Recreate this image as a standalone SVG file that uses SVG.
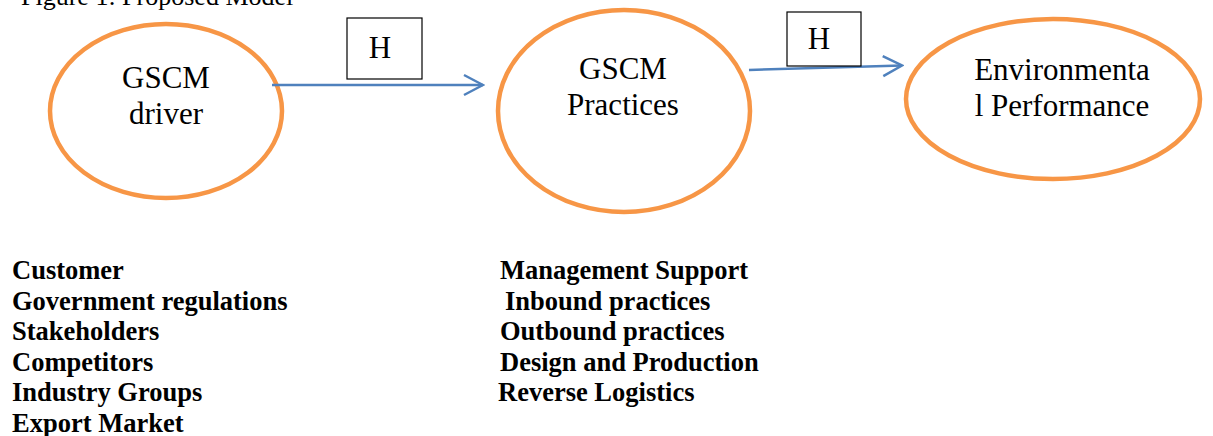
<svg xmlns="http://www.w3.org/2000/svg" width="1213" height="436" viewBox="0 0 1213 436">
<style>
.node{fill:#ffffff;stroke:#F79646;stroke-width:4.5}
.lbl{font-family:"Liberation Serif","Times New Roman",serif;font-size:31px;fill:#000;text-anchor:middle}
.box{fill:#ffffff;stroke:#000;stroke-width:1.2}
.conn{stroke:#4F81BD;stroke-width:2.5;fill:none}
.list{font-family:"Liberation Serif","Times New Roman",serif;font-size:26.5px;font-weight:bold;fill:#000}
.title{font-family:"Liberation Serif","Times New Roman",serif;font-size:26px;fill:#000}
</style>
<defs>
<marker id="arr" markerWidth="22" markerHeight="24" refX="19" refY="10" orient="auto" markerUnits="userSpaceOnUse" viewBox="-1 -1 22 22">
<path d="M0,0 L19,10 L0,20" fill="none" stroke="#4F81BD" stroke-width="2.5"/>
</marker>
</defs>
<rect width="1213" height="436" fill="#ffffff"/>
<text class="title" x="21" y="5">Figure 1: Proposed Model</text>

<g id="driver">
<ellipse class="node" cx="166" cy="111" rx="116" ry="87"/>
<text class="lbl" x="166" y="88">GSCM</text>
<text class="lbl" x="166" y="124">driver</text>
</g>
<g id="practices">
<ellipse class="node" cx="624" cy="111" rx="126" ry="101"/>
<text class="lbl" x="623" y="79">GSCM</text>
<text class="lbl" x="623" y="115">Practices</text>
</g>
<g id="performance">
<ellipse class="node" cx="1053" cy="99" rx="147" ry="80"/>
<text class="lbl" x="1062" y="80">Environmenta</text>
<text class="lbl" x="1062" y="116">l Performance</text>
</g>

<g id="connectors">
<line class="conn" x1="272" y1="85" x2="483" y2="85" marker-end="url(#arr)"/>
<line class="conn" x1="749" y1="70" x2="902" y2="65.5" marker-end="url(#arr)"/>
</g>

<g id="h1">
<rect class="box" x="347" y="18" width="75" height="61"/>
<text class="lbl" x="380" y="58">H</text>
</g>
<g id="h2">
<rect class="box" x="787" y="12" width="74" height="54"/>
<text class="lbl" x="819" y="49">H</text>
</g>

<g id="drivers-list">
<text class="list" x="12" y="279">Customer</text>
<text class="list" x="12" y="310">Government regulations</text>
<text class="list" x="12" y="340">Stakeholders</text>
<text class="list" x="12" y="371">Competitors</text>
<text class="list" x="12" y="401">Industry Groups</text>
<text class="list" x="12" y="432">Export Market</text>
</g>
<g id="practices-list">
<text class="list" x="500" y="279">Management Support</text>
<text class="list" x="505" y="310">Inbound practices</text>
<text class="list" x="500" y="340">Outbound practices</text>
<text class="list" x="500" y="371">Design and Production</text>
<text class="list" x="498" y="401">Reverse Logistics</text>
</g>
</svg>
